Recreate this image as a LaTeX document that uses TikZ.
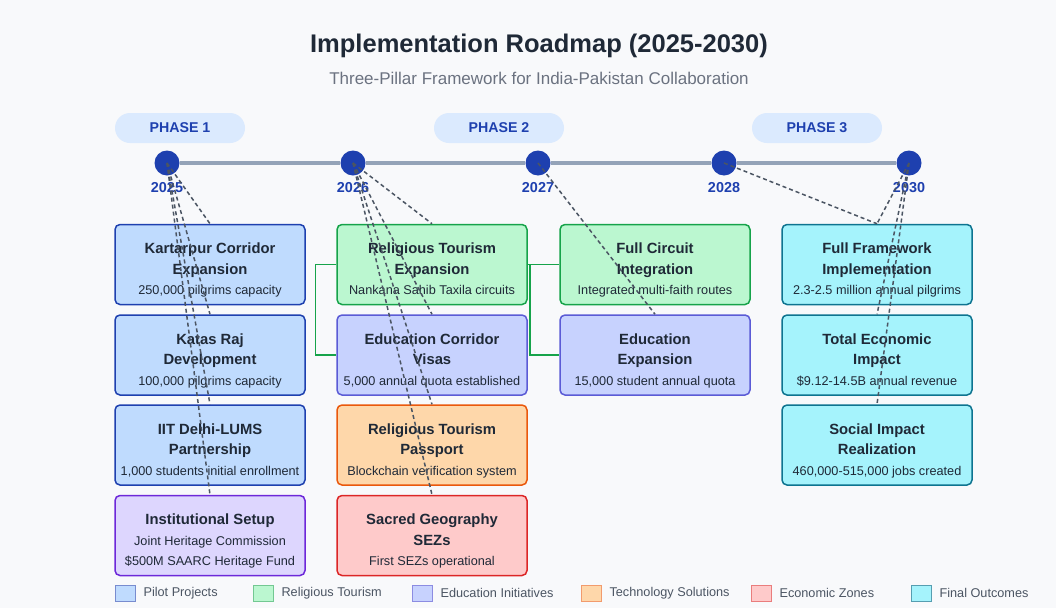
\documentclass[tikz,border=0pt]{standalone}
\usepackage{fontspec}
\setmainfont{Liberation Sans}
\definecolor{bgcol}{HTML}{F8F9FB}
\definecolor{ink}{HTML}{1F2937}
\definecolor{subink}{HTML}{6B7280}
\definecolor{dotblue}{HTML}{1E40AF}
\definecolor{phasefill}{HTML}{DBEAFE}
\definecolor{axisgray}{HTML}{94A3B8}
\definecolor{tiegray}{HTML}{4B5563}
\definecolor{pilotfill}{HTML}{BFDBFE}
\definecolor{pilotline}{HTML}{1E40AF}
\definecolor{tourfill}{HTML}{BBF7D0}
\definecolor{tourline}{HTML}{16A34A}
\definecolor{edufill}{HTML}{C7D2FE}
\definecolor{eduline}{HTML}{5B5BD6}
\definecolor{techfill}{HTML}{FED7AA}
\definecolor{techline}{HTML}{EA580C}
\definecolor{econfill}{HTML}{FECACA}
\definecolor{econline}{HTML}{DC2626}
\definecolor{outfill}{HTML}{A5F3FC}
\definecolor{outline}{HTML}{0E7490}
\definecolor{instfill}{HTML}{DDD6FE}
\definecolor{instline}{HTML}{6D28D9}
\definecolor{legendink}{HTML}{4B5563}
\newcommand\boxnote[1]{{\fontsize{12.7}{20.5}\selectfont #1}}

\begin{document}
\begin{tikzpicture}[x=1pt,y=-1pt,
  box/.style={draw, rounded corners=5pt, line width=1.5pt, minimum width=190pt, minimum height=80pt, align=center, text=ink, font=\fontsize{14.8}{20.5}\selectfont, text height=63pt, text depth=3pt},
  pilot/.style={box, fill=pilotfill, draw=pilotline},
  tour/.style={box, fill=tourfill, draw=tourline},
  edu/.style={box, fill=edufill, draw=eduline},
  tech/.style={box, fill=techfill, draw=techline},
  econ/.style={box, fill=econfill, draw=econline},
  outcome/.style={box, fill=outfill, draw=outline},
  inst/.style={box, fill=instfill, draw=instline},
  yeardot/.style={circle, fill=dotblue, minimum size=25pt, inner sep=0pt},
  yearlabel/.style={text=dotblue, font=\bfseries\fontsize{14.4}{17}\selectfont},
  phasepill/.style={fill=phasefill, rounded corners=15pt, minimum width=130pt, minimum height=30pt, text=dotblue, font=\bfseries\fontsize{14.2}{17}\selectfont},
  tie/.style={draw=tiegray, line width=1.5pt, dash pattern=on 4pt off 3pt},
  link/.style={draw=tourline, line width=1.5pt},
  key/.style={minimum width=20pt, minimum height=16pt, inner sep=0pt, line width=1pt},
  keytext/.style={anchor=west, text=legendink, font=\fontsize{12.7}{15}\selectfont}
]
\fill[bgcol] (0,0) rectangle (1056,608);
\useasboundingbox (0,0) rectangle (1056,608);

\node[text=ink, font=\bfseries\fontsize{25.5}{30}\selectfont] (title) at (539,46) {Implementation Roadmap (2025-2030)};
\node[text=subink, font=\fontsize{17}{20}\selectfont] (subtitle) at (539,78) {Three-Pillar Framework for India-Pakistan Collaboration};

\node[phasepill] (ph1) at (180,128) {PHASE 1};
\node[phasepill] (ph2) at (499,128) {PHASE 2};
\node[phasepill] (ph3) at (817,128) {PHASE 3};

\node[yeardot] (y25) at (167,163){};
\node[yeardot] (y26) at (353,163){};
\node[yeardot] (y27) at (538,163){};
\node[yeardot] (y28) at (724,163){};
\node[yeardot] (y30) at (909,163){};
\draw[axisgray, line width=4pt] (y25.east) -- (y26.west);
\draw[axisgray, line width=4pt] (y26.east) -- (y27.west);
\draw[axisgray, line width=4pt] (y27.east) -- (y28.west);
\draw[axisgray, line width=4pt] (y28.east) -- (y30.west);
\node[yearlabel] (t25) at (167,188) {2025};
\node[yearlabel] (t26) at (353,188) {2026};
\node[yearlabel] (t27) at (538,188) {2027};
\node[yearlabel] (t28) at (724,188) {2028};
\node[yearlabel] (t30) at (909,188) {2030};

% phase 1
\node[pilot] (kcx) at (210,264.5) {\textbf{Kartarpur Corridor}\\\textbf{Expansion}\\\boxnote{250,000 pilgrims capacity}};
\node[pilot] (krd) at (210,355) {\textbf{Katas Raj}\\\textbf{Development}\\\boxnote{100,000 pilgrims capacity}};
\node[pilot] (iit) at (210,445) {\textbf{IIT Delhi-LUMS}\\\textbf{Partnership}\\\boxnote{1,000 students initial enrollment}};
\node[inst] (ins) at (210,535.5) {\textbf{Institutional Setup}\\\boxnote{Joint Heritage Commission}\\\boxnote{\$500M SAARC Heritage Fund}};

% phase 2
\node[tour] (rte) at (432,264.5) {\textbf{Religious Tourism}\\\textbf{Expansion}\\\boxnote{Nankana Sahib Taxila circuits}};
\node[edu] (ecv) at (432,355) {\textbf{Education Corridor}\\\textbf{Visas}\\\boxnote{5,000 annual quota established}};
\node[tech] (rtp) at (432,445) {\textbf{Religious Tourism}\\\textbf{Passport}\\\boxnote{Blockchain verification system}};
\node[econ] (sgs) at (432,535.5) {\textbf{Sacred Geography}\\\textbf{SEZs}\\\boxnote{First SEZs operational}};
\node[tour] (fci) at (655,264.5) {\textbf{Full Circuit}\\\textbf{Integration}\\\boxnote{Integrated multi-faith routes}};
\node[edu] (edx) at (655,355) {\textbf{Education}\\\textbf{Expansion}\\\boxnote{15,000 student annual quota}};

% phase 3
\node[outcome] (ffi) at (877,264.5) {\textbf{Full Framework}\\\textbf{Implementation}\\\boxnote{2.3-2.5 million annual pilgrims}};
\node[outcome] (tei) at (877,355) {\textbf{Total Economic}\\\textbf{Impact}\\\boxnote{\$9.12-14.5B annual revenue}};
\node[outcome] (sir) at (877,445) {\textbf{Social Impact}\\\textbf{Realization}\\\boxnote{460,000-515,000 jobs created}};

\draw[link] (rte.west) -- ++(-21,0) |- (ecv.west);
\draw[link] (rte.east) -- (fci.west);
\draw[link] (rte.east) -- ++(2,0) |- (edx.west);

\draw[tie] (y25.center) -- (kcx.north);
\draw[tie] (y25.center) -- (krd.north);
\draw[tie] (y25.center) -- (iit.north);
\draw[tie] (y25.center) -- (ins.north);
\draw[tie] (y26.center) -- (rte.north);
\draw[tie] (y26.center) -- (ecv.north);
\draw[tie] (y26.center) -- (rtp.north);
\draw[tie] (y26.center) -- (sgs.north);
\draw[tie] (y27.center) -- (edx.north);
\draw[tie] (y28.center) -- (ffi.north);
\draw[tie] (y30.center) -- (ffi.north);
\draw[tie] (y30.center) -- (tei.north);
\draw[tie] (y30.center) -- (sir.north);

% legend
\node[key, fill=pilotfill, draw=pilotline!60] (k1) at (125,593){};
\node[keytext] (l1) at (140,593) {Pilot Projects};
\node[key, fill=tourfill, draw=tourline!60] (k2) at (263,593){};
\node[keytext] (l2) at (278,593) {Religious Tourism};
\node[key, fill=edufill, draw=eduline!70] (k3) at (422,593){};
\node[keytext] (l3) at (437,593) {Education Initiatives};
\node[key, fill=techfill, draw=techline!60] (k4) at (591,593){};
\node[keytext] (l4) at (606,593) {Technology Solutions};
\node[key, fill=econfill, draw=econline!60] (k5) at (761,593){};
\node[keytext] (l5) at (776,593) {Economic Zones};
\node[key, fill=outfill, draw=outline!70] (k6) at (921,593){};
\node[keytext] (l6) at (936,593) {Final Outcomes};

\end{tikzpicture}
\end{document}
